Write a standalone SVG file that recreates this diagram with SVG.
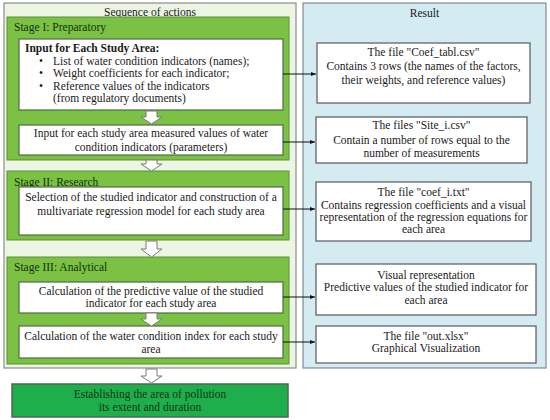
<svg xmlns="http://www.w3.org/2000/svg" width="550" height="420" viewBox="0 0 550 420" font-family="'Liberation Serif', 'Times New Roman', 'DejaVu Serif', serif">
<defs>
<style>
text{font-family:'Liberation Serif','Times New Roman','DejaVu Serif',serif;font-size:11.5px;fill:#1a1a1a}
.c{text-anchor:middle}
.panelL{fill:#ecf4e4;stroke:#8a8f86;stroke-width:1.2}
.panelR{fill:#d5ebf2;stroke:#7d8c92;stroke-width:1.2}
.stage{fill:#7bc143;stroke:#5d8f35;stroke-width:1}
.wbox{fill:#ffffff;stroke:#4f6a45;stroke-width:1.2}
.rbox{fill:#ffffff;stroke:#555b5e;stroke-width:1.2}
.st{fill:#14320f}
.conn{stroke:#111;stroke-width:1;fill:none}
.barrow{fill:#ffffff;stroke:#7a7a7a;stroke-width:1}
.final{fill:#1eae4c;stroke:#4e6a4e;stroke-width:1.5}
.ft{fill:#163616}
</style>
<marker id="ah" viewBox="0 0 10 10" refX="10" refY="5" markerWidth="5" markerHeight="5" orient="auto">
<path d="M0,1 L10,5 L0,9 Z" fill="#111"/>
</marker>
</defs>

<g id="panel-sequence">
<rect class="panelL" x="4" y="3" width="292" height="365"/>
<text class="c" x="150" y="16">Sequence of actions</text>
</g>
<g id="panel-result">
<rect class="panelR" x="303" y="3" width="243" height="365"/>
<text class="c" x="424.5" y="17">Result</text>
</g>

<g id="stage1">
<rect class="stage" x="7" y="17" width="282" height="143"/>
<text class="st" x="14" y="31">Stage I: Preparatory</text>
</g>
<g id="input-area">
<rect class="wbox" x="19" y="39" width="264" height="71"/>
<text x="25" y="52" style="font-weight:bold">Input for Each Study Area:</text>
<text x="39" y="65">•</text><text x="53" y="65">List of water condition indicators (names);</text>
<text x="39" y="77">•</text><text x="53" y="77">Weight coefficients for each indicator;</text>
<text x="39" y="90">•</text><text x="53" y="90">Reference values of the indicators</text>
<text x="53" y="102">(from regulatory documents)</text>
</g>
<g id="input-measured">
<rect class="wbox" x="19" y="125" width="264" height="30"/>
<text class="c" x="151" y="137">Input for each study area measured values of water</text>
<text class="c" x="151" y="151">condition indicators (parameters)</text>
</g>

<g id="stage2">
<rect class="stage" x="7" y="171" width="282" height="69"/>
<text class="st" x="14" y="186">Stage II: Research</text>
</g>
<g id="selection">
<rect class="wbox" x="19" y="187" width="264" height="48"/>
<text class="c" x="151" y="201">Selection of the studied indicator and construction of a</text>
<text class="c" x="151" y="215">multivariate regression model for each study area</text>
</g>

<g id="stage3">
<rect class="stage" x="7" y="257" width="282" height="107"/>
<text class="st" x="14" y="271">Stage III: Analytical</text>
</g>
<g id="calc-predictive">
<rect class="wbox" x="19" y="282" width="264" height="31"/>
<text class="c" x="151" y="295">Calculation of the predictive value of the studied</text>
<text class="c" x="151" y="307">indicator for each study area</text>
</g>
<g id="calc-index">
<rect class="wbox" x="19" y="326" width="264" height="32"/>
<text class="c" x="151" y="340">Calculation of the water condition index for each study</text>
<text class="c" x="151" y="353">area</text>
</g>

<g id="final">
<rect class="final" x="12" y="384" width="276" height="33"/>
<text class="c ft" x="150" y="398">Establishing the area of pollution</text>
<text class="c ft" x="150" y="411">its extent and duration</text>
</g>

<g id="r-coef-tabl">
<rect class="rbox" x="317" y="43" width="213" height="60"/>
<text class="c" x="423.5" y="56">The file "Coef_tabl.csv"</text>
<text class="c" x="423.5" y="70">Contains 3 rows (the names of the factors,</text>
<text class="c" x="423.5" y="84">their weights, and reference values)</text>
</g>
<g id="r-site">
<rect class="rbox" x="316" y="117" width="211" height="46"/>
<text class="c" x="421.5" y="129">The files "Site_i.csv"</text>
<text class="c" x="421.5" y="144">Contain a number of rows equal to the</text>
<text class="c" x="421.5" y="157">number of measurements</text>
</g>
<g id="r-coef-i">
<rect class="rbox" x="316" y="182" width="215" height="59"/>
<text class="c" x="423.5" y="196">The file "coef_i.txt"</text>
<text class="c" x="423.5" y="209">Contains regression coefficients and a visual</text>
<text class="c" x="423.5" y="221">representation of the regression equations for</text>
<text class="c" x="423.5" y="233">each area</text>
</g>
<g id="r-visual">
<rect class="rbox" x="316" y="264" width="220" height="51"/>
<text class="c" x="426" y="279">Visual representation</text>
<text class="c" x="426" y="291">Predictive values of the studied indicator for</text>
<text class="c" x="426" y="304">each area</text>
</g>
<g id="r-out">
<rect class="rbox" x="316" y="326" width="220" height="37"/>
<text class="c" x="426" y="340">The file "out.xlsx"</text>
<text class="c" x="426" y="352">Graphical Visualization</text>
</g>

<g id="connectors">
<line class="conn" x1="283" y1="74" x2="316" y2="74" marker-end="url(#ah)"/>
<line class="conn" x1="283" y1="142" x2="315" y2="142" marker-end="url(#ah)"/>
<line class="conn" x1="283" y1="209" x2="315" y2="209" marker-end="url(#ah)"/>
<line class="conn" x1="283" y1="297" x2="315" y2="297" marker-end="url(#ah)"/>
<line class="conn" x1="283" y1="342" x2="315" y2="342" marker-end="url(#ah)"/>
<path class="barrow" d="M146,111 H157 V117 H162 L151.5,124 L141,117 H146 Z"/>
<path class="barrow" d="M146,160 H157 V164 H162 L151.5,171 L141,164 H146 Z"/>
<path class="barrow" d="M146,241 H157 V249 H162 L151.5,257 L141,249 H146 Z"/>
<path class="barrow" d="M146,313 H157 V319 H162 L151.5,326 L141,319 H146 Z"/>
<path class="barrow" d="M146,369 H157 V376 H162 L151.5,383 L141,376 H146 Z"/>
</g>
</svg>
